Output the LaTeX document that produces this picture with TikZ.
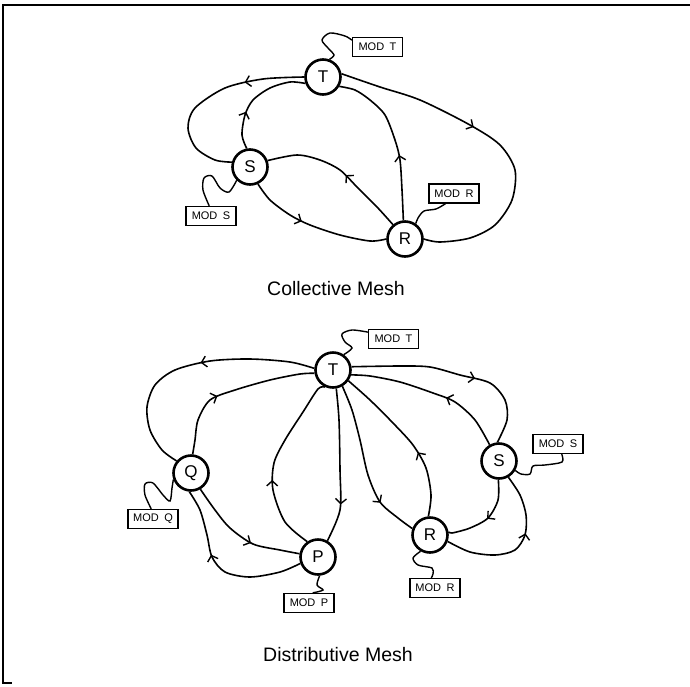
\documentclass[tikz,border=0pt]{standalone}
\usepackage{fontspec}
\setmainfont{Liberation Sans}
\usetikzlibrary{arrows.meta,decorations.markings}
\begin{document}
\begin{tikzpicture}[x=1pt,y=-1pt,
  stn/.style={circle,draw,line width=2.6pt,minimum size=35pt,inner sep=0pt,font=\fontsize{17}{17}\selectfont},
  mod/.style={draw,line width=1.3pt,minimum width=50pt,minimum height=19pt,inner sep=1pt,font=\fontsize{11}{11}\selectfont},
  wire/.style={line width=1.4pt},
  link/.style={line width=1.6pt,postaction={decorate},
    decoration={markings,mark=at position #1 with {\arrow{Straight Barb[length=5pt,width=11pt,line width=1.4pt]}}}},
  link/.default=0.5]
  \useasboundingbox (0,0) rectangle (690,686);
  \draw[line width=1.8pt] (690,5)--(3,5)--(3,683)--(12,683);

  % collective mesh
  \node[stn] (cT) at (323,77) {T};
  \node[stn] (cS) at (250,167) {S};
  \node[stn] (cR) at (405,239) {R};
  \node[mod] (mcT) at (377.5,47) {MOD\enspace T};
  \node[mod] (mcS) at (211,216) {MOD\enspace S};
  \node[mod] (mcR) at (454,193.5) {MOD\enspace R};
  \draw[link=0.3] plot[smooth] coordinates {(cT.180) (263,79) (225,88) (195,108) (188,128) (196,148) (215,160) (cS.165)};
  \draw[link=0.35] plot[smooth] coordinates {(cS.100) (242,135) (245,115) (253,100) (270,88) (290,82) (cT.200)};
  \draw[link=0.45] plot[smooth] coordinates {(cR.130) (377,207) (357,187) (340,170) (320,160) (297,155) (cS.20)};
  \draw[link=0.4] plot[smooth] coordinates {(cS.295) (270,200) (290,215) (310,225) (340,235) (370,241) (cR.180)};
  \draw[link=0.4] plot[smooth] coordinates {(cR.95) (402,190) (400,160) (395,140) (385,115) (370,100) (355,90) (cT.330)};
  \draw[link=0.42] plot[smooth] coordinates {(cT.10) (380,87) (420,100) (470,125) (500,145) (515,170) (512,200) (495,225) (470,238) (440,242) (cR.0)};
  \draw[wire] plot[smooth] coordinates {(mcT.165) (345,36) (330,33) (322,40) (328,48) (334,55) (cT.70)};
  \draw[wire] plot[smooth] coordinates {(mcS.100) (203,190) (204,178) (212,176) (220,188) (229,192) (cS.225)};
  \draw[wire] plot[smooth] coordinates {(mcR.230) (436,209) (424,211) (418,218) (cR.55)};
  \node (ctitle) at (336,289) {\fontsize{19.5}{20}\selectfont Collective Mesh};

  % distributive mesh
  \node[stn] (dT) at (333,370) {T};
  \node[stn] (dQ) at (191,473) {Q};
  \node[stn] (dP) at (318,557) {P};
  \node[stn] (dR) at (430,535) {R};
  \node[stn] (dS) at (499,461) {S};
  \node[mod] (mdT) at (393.5,339) {MOD\enspace T};
  \node[mod] (mdQ) at (153,519) {MOD\enspace Q};
  \node[mod] (mdS) at (558,444) {MOD\enspace S};
  \node[mod] (mdP) at (309,603) {MOD\enspace P};
  \node[mod] (mdR) at (435,588) {MOD\enspace R};
  \draw[link=0.45] plot[smooth] coordinates {(dT.175) (290,362) (250,359) (210,361) (175,370) (155,385) (147,407) (150,430) (162,450) (dQ.140)};
  \draw[link=0.4] plot[smooth] coordinates {(dQ.85) (195,440) (198,420) (210,400) (235,390) (270,380) (300,374) (dT.190)};
  \draw[link=0.4] plot[smooth] coordinates {(dP.125) (285,522) (273,490) (274,463) (285,440) (303,412) (318,389) (dT.245)};
  \draw[link=0.75] plot[smooth] coordinates {(dT.280) (339,420) (340,470) (340,510) (dP.60)};
  \draw[link=0.75] plot[smooth] coordinates {(dT.300) (352,410) (360,440) (368,475) (380,502) (398,518) (dR.160)};
  \draw[link=0.4] plot[smooth] coordinates {(dR.95) (431,495) (426,468) (413,445) (393,423) (370,400) (dT.325)};
  \draw[link=0.6] plot[smooth] coordinates {(dT.10) (400,366) (430,367) (460,375) (490,383) (505,400) (507,420) (dS.95)};
  \draw[link=0.4] plot[smooth] coordinates {(dS.120) (475,420) (455,402) (433,393) (400,382) (370,376) (dT.345)};
  \draw[link=0.6] plot[smooth] coordinates {(dQ.300) (215,510) (230,528) (253,544) (280,550) (dP.170)};
  \draw[link=0.6] plot[smooth] coordinates {(dP.200) (280,572) (250,577) (225,572) (212,557) (207,535) (200,510) (dQ.265)};
  \draw[link=0.5] plot[smooth] coordinates {(dS.268) (498,500) (488,518) (470,528) (452,533) (dR.10)};
  \draw[link=0.6] plot[smooth] coordinates {(dR.340) (470,552) (495,555) (515,550) (525,535) (526,515) (520,495) (dS.300)};
  \draw[wire] plot[smooth] coordinates {(mdT.165) (352,330) (342,334) (345,342) (352,348) (dT.55)};
  \draw[wire] plot[smooth] coordinates {(mdQ.100) (145,495) (145,484) (153,483) (163,495) (170,501) (172,488) (dQ.200)};
  \draw[wire] plot[smooth] coordinates {(mdS.290) (562,462) (545,465) (533,466) (530,474) (521,474) (dS.330)};
  \draw[wire] plot[smooth] coordinates {(dP.275) (317,585) (323,590) (mdP.70)};
  \draw[wire] plot[smooth] coordinates {(dR.240) (413,558) (418,565) (432,568) (433,574) (mdR.110)};
  \node (dtitle) at (338,655) {\fontsize{19.5}{20}\selectfont Distributive Mesh};
\end{tikzpicture}
\end{document}
